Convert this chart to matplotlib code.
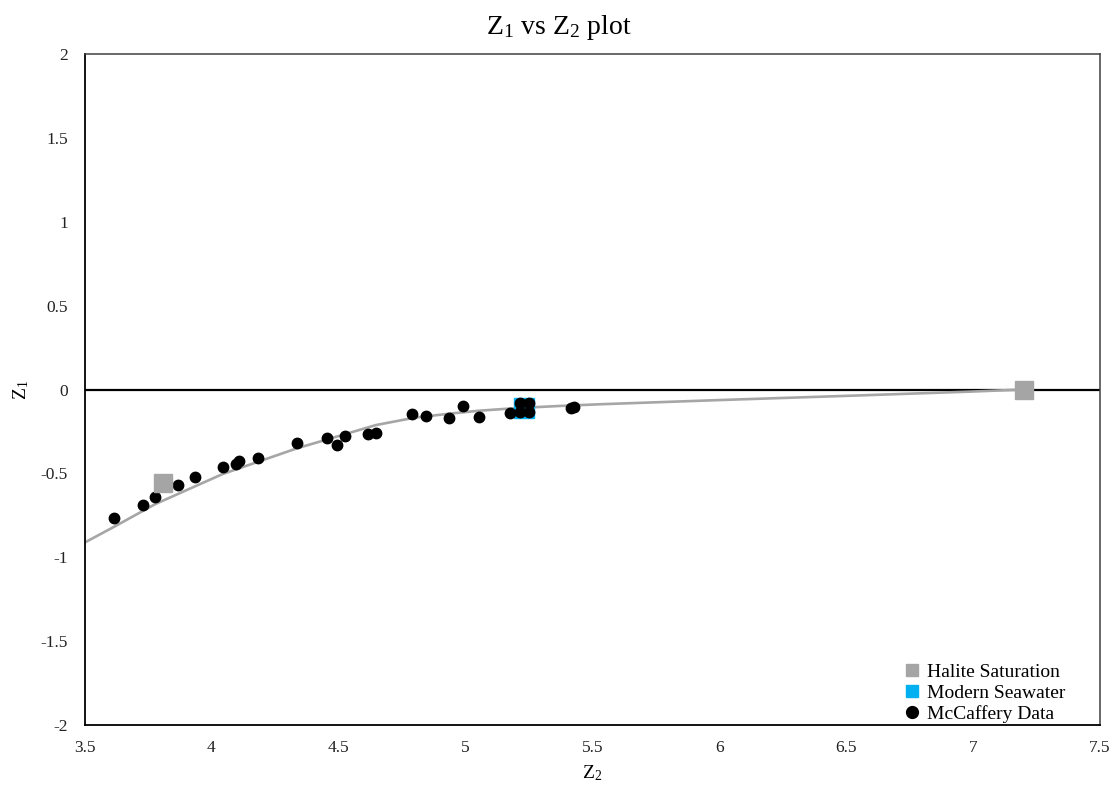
import matplotlib
matplotlib.use("Agg")
import matplotlib.pyplot as plt
from matplotlib.lines import Line2D

plt.rcParams["font.family"] = ["Liberation Serif", "DejaVu Serif"]
plt.rcParams["mathtext.fontset"] = "custom"
plt.rcParams["mathtext.rm"] = "Liberation Serif"
plt.rcParams["mathtext.it"] = "Liberation Serif:italic"

# McCaffery brine data (Z2, Z1)
mccaffery_z2 = [3.617, 3.729, 3.779, 3.869, 3.935, 4.044, 4.097, 4.107, 4.182,
                4.336, 4.454, 4.494, 4.527, 4.615, 4.649, 4.789, 4.844, 4.934,
                4.990, 5.055, 5.176, 5.215, 5.252, 5.215, 5.252, 5.415, 5.428]
mccaffery_z1 = [-0.768, -0.689, -0.643, -0.569, -0.523, -0.464, -0.446, -0.424, -0.410,
                -0.317, -0.291, -0.331, -0.277, -0.265, -0.261, -0.148, -0.156, -0.172,
                -0.097, -0.162, -0.138, -0.082, -0.082, -0.132, -0.132, -0.108, -0.103]

# Halite saturation points
halite_z2 = [3.81, 7.2]
halite_z1 = [-0.56, 0.0]

# Modern seawater
seawater_z2 = [5.23]
seawater_z1 = [-0.11]

# Evaporation path
path_z2 = [3.5, 3.617, 3.779, 4.044, 4.336, 4.648, 4.80, 4.95, 5.058, 5.20,
           5.373, 5.53, 6.0, 6.5, 7.0, 7.2]
path_z1 = [-0.913, -0.818, -0.683, -0.504, -0.351, -0.212, -0.168, -0.142, -0.126, -0.111,
           -0.098, -0.088, -0.063, -0.038, -0.012, 0.0]

x_ticks = [3.5, 4, 4.5, 5, 5.5, 6, 6.5, 7, 7.5]
x_tick_labels = ["3.5", "4", "4.5", "5", "5.5", "6", "6.5", "7", "7.5"]
y_ticks = [-2, -1.5, -1, -0.5, 0, 0.5, 1, 1.5, 2]
y_tick_labels = ["-2", "-1.5", "-1", "-0.5", "0", "0.5", "1", "1.5", "2"]

W, H = 1118, 796
fig = plt.figure(figsize=(W / 100, H / 100), dpi=100)
ax = fig.add_axes([84.5 / W, 1 - 725 / H, (1100 - 84.5) / W, (725 - 54) / H])

ax.set_xlim(3.5, 7.5)
ax.set_ylim(-2, 2)

ax.axhline(0, color="black", lw=1.6, zorder=1)
ax.plot(path_z2, path_z1, color="#A6A6A6", lw=1.9, zorder=2, solid_capstyle="butt")
ax.plot(seawater_z2, seawater_z1, ls="none", marker="s", ms=14.5,
        color="#00B0F0", mec="#00B0F0", zorder=3)
ax.plot(mccaffery_z2, mccaffery_z1, ls="none", marker="o", ms=7.5,
        color="black", zorder=4)
ax.plot(halite_z2, halite_z1, ls="none", marker="s", ms=12.5,
        color="#A5A5A5", mec="#A5A5A5", zorder=5)

ax.set_xticks(x_ticks)
ax.set_xticklabels(x_tick_labels)
ax.set_yticks(y_ticks)
ax.set_yticklabels(y_tick_labels)
ax.tick_params(length=0, labelsize=12.5, colors="#222222", pad=11)
ax.tick_params(axis="y", pad=12)

for side in ("left", "bottom"):
    ax.spines[side].set_color("black")
    ax.spines[side].set_linewidth(1.3)
for side in ("top", "right"):
    ax.spines[side].set_color("#404040")
    ax.spines[side].set_linewidth(1.1)

ax.set_xlabel(r"$\mathregular{Z_2}$", fontsize=14, labelpad=5)
ax.set_ylabel(r"$\mathregular{Z_1}$", fontsize=14, labelpad=7)

fig.text(0.5, 1 - 28 / H, r"$\mathregular{Z_1}$ vs $\mathregular{Z_2}$ plot",
         ha="center", va="center", fontsize=20)

handles = [
    Line2D([], [], ls="none", marker="s", ms=9, color="#A5A5A5", label="Halite Saturation"),
    Line2D([], [], ls="none", marker="s", ms=9, color="#00B0F0", label="Modern Seawater"),
    Line2D([], [], ls="none", marker="o", ms=8.5, color="black", label="McCaffery Data"),
]
fig.legend(handles=handles, loc="lower left", bbox_to_anchor=(906 / W, 1 - 723 / H),
           frameon=False, fontsize=14, handlelength=0.6, handletextpad=0.48,
           labelspacing=0.17, borderaxespad=0, borderpad=0)

fig.savefig("out.png", dpi=100)
